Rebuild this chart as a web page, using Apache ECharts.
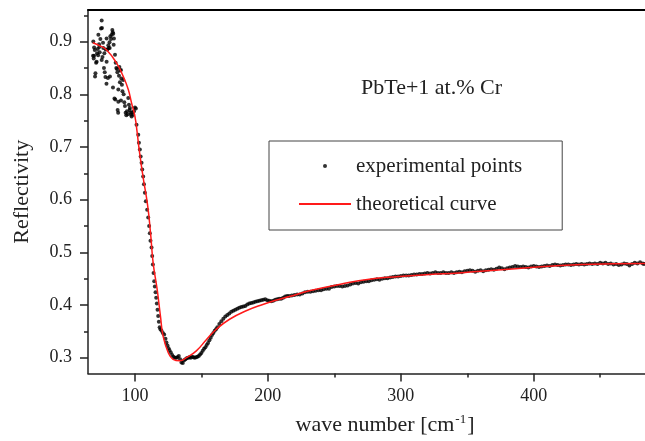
<!DOCTYPE html>
<html>
<head>
<meta charset="utf-8">
<script src="https://cdn.jsdelivr.net/npm/echarts@6/dist/echarts.min.js"></script>
<style>
html, body { margin: 0; padding: 0; background: #fff; }
#main { width: 645px; height: 441px; }
</style>
</head>
<body>
<div id="main"></div>
<script>
// experimental points: wave number / reflectivity
var expX = [68.5, 68.7, 69.0, 69.3, 69.3, 69.8, 70.0, 70.3, 70.8, 71.2, 71.5, 72.0, 72.3, 72.5, 73.0, 73.2, 73.5, 74.0, 74.5, 75.0,
    75.2, 75.0, 75.6, 76.0, 76.2, 76.7, 77.0, 77.3, 77.8, 78.0, 78.6, 78.7, 78.7, 79.3, 79.7, 80.0, 80.3, 80.9, 81.0, 81.2,
    81.5, 82.0, 82.5, 83.0, 83.3, 83.5, 83.7, 84.0, 84.2, 84.6, 85.0, 85.2, 85.5, 86.0, 86.5, 86.8, 87.0, 87.4, 87.5, 87.5,
    88.0, 88.3, 88.7, 89.0, 89.5, 89.5, 89.8, 90.2, 90.6, 91.2, 91.5, 92.0, 92.5, 93.0, 93.5, 94.0, 94.5, 95.0, 95.5, 96.0,
    96.2, 96.7, 97.0, 97.5, 98.0, 98.7, 99.3, 100.0, 100.7, 101.2, 102.5, 103.0, 103.7, 104.3, 105.0, 105.5, 106.2, 106.8, 107.5, 108.2,
    109.2, 110.0, 110.7, 111.2, 111.7, 112.5, 113.0, 113.5, 114.0, 114.5, 115.0, 115.5, 116.0, 116.5, 117.0, 117.5, 118.0, 118.6, 119.2, 120.0,
    121.0, 122.0, 123.0, 123.7, 124.5, 125.3, 126.0, 127.0, 128.0, 129.0, 130.0, 131.0, 132.0, 133.0, 134.0, 135.0, 136.0, 137.0, 138.0, 139.0,
    140.0, 141.0, 142.0, 143.0, 144.0, 145.0, 146.0, 147.0, 148.0, 149.0, 150.0, 151.0, 152.0, 153.0, 154.0, 155.0, 156.0, 157.0, 158.0, 159.0,
    160.0, 161.0, 162.0, 163.5, 165.0, 166.5, 168.0, 169.5, 171.0, 172.5, 174.0, 175.5, 177.0, 178.5, 180.0, 181.5, 183.0, 184.5, 186.0, 187.5,
    189.0, 190.5, 192.0, 193.5, 195.0, 196.5, 198.0, 199.5, 201.0, 202.5, 204.0, 205.5, 207.0, 208.5, 210.0, 211.5, 213.0, 214.5, 216.0, 218.0,
    220, 222, 224, 226, 228, 230, 232, 234, 236, 238, 240, 242, 244, 246, 248, 250, 252, 254, 256, 258,
    260, 262, 264, 266, 268, 270, 272, 274, 276, 278, 280, 282, 284, 286, 288, 290, 292, 294, 296, 298,
    300, 302, 304, 306, 308, 310, 312, 314, 316, 318, 320, 322, 324, 326, 328, 330, 332, 334, 336, 338,
    340, 342, 344, 346, 348, 350, 352, 354, 356, 358, 360, 362, 364, 366, 368, 370, 372, 374, 376, 378,
    380, 382, 384, 386, 388, 390, 392, 394, 396, 398, 400, 402, 404, 406, 408, 410, 412, 414, 416, 418,
    420, 422, 424, 426, 428, 430, 432, 434, 436, 438, 440, 442, 444, 446, 448, 450, 452, 454, 456, 458,
    460, 462, 464, 466, 468, 470, 472, 474, 476, 478, 480, 482, 483];
var expY = [0.873, 0.900, 0.868, 0.889, 0.873, 0.884, 0.834, 0.840, 0.860, 0.862, 0.878, 0.886, 0.874, 0.913, 0.895, 0.890, 0.880, 0.905, 0.925, 0.940,
    0.926, 0.865, 0.871, 0.898, 0.888, 0.850, 0.878, 0.842, 0.833, 0.885, 0.820, 0.862, 0.906, 0.885, 0.831, 0.893, 0.888, 0.899, 0.888, 0.834,
    0.910, 0.905, 0.913, 0.922, 0.918, 0.813, 0.915, 0.894, 0.906, 0.792, 0.875, 0.790, 0.860, 0.850, 0.848, 0.842, 0.770, 0.765, 0.786, 0.809,
    0.835, 0.852, 0.823, 0.845, 0.846, 0.788, 0.830, 0.818, 0.806, 0.827, 0.800, 0.785, 0.778, 0.765, 0.760, 0.768, 0.762, 0.793, 0.780, 0.770,
    0.774, 0.765, 0.761, 0.758, 0.766, 0.761, 0.768, 0.775, 0.773, 0.742, 0.723, 0.708, 0.695, 0.682, 0.670, 0.657, 0.644, 0.629, 0.613, 0.597,
    0.581, 0.566, 0.550, 0.536, 0.522, 0.509, 0.493, 0.477, 0.461, 0.445, 0.435, 0.424, 0.414, 0.403, 0.391, 0.379, 0.368, 0.358, 0.354, 0.351,
    0.347, 0.344, 0.336, 0.329, 0.323, 0.318, 0.314, 0.310, 0.305, 0.302, 0.300, 0.300, 0.301, 0.303, 0.297, 0.291, 0.290, 0.295, 0.297, 0.299,
    0.300, 0.301, 0.300, 0.302, 0.301, 0.300, 0.301, 0.302, 0.303, 0.306, 0.309, 0.313, 0.317, 0.320, 0.324, 0.328, 0.333, 0.338, 0.343, 0.347,
    0.351, 0.354, 0.358, 0.364, 0.369, 0.374, 0.378, 0.381, 0.384, 0.387, 0.389, 0.391, 0.393, 0.395, 0.396, 0.397, 0.398, 0.401, 0.403, 0.404,
    0.405, 0.406, 0.407, 0.408, 0.409, 0.410, 0.411, 0.409, 0.408, 0.407, 0.408, 0.410, 0.411, 0.412, 0.412, 0.414, 0.416, 0.417, 0.417, 0.418,
    0.419, 0.420, 0.420, 0.422, 0.424, 0.425, 0.425, 0.426, 0.427, 0.428, 0.428, 0.430, 0.431, 0.431, 0.434, 0.435, 0.436, 0.436, 0.435, 0.436,
    0.437, 0.439, 0.441, 0.442, 0.441, 0.443, 0.444, 0.445, 0.445, 0.447, 0.448, 0.449, 0.448, 0.450, 0.451, 0.451, 0.452, 0.453, 0.454, 0.454,
    0.455, 0.456, 0.456, 0.456, 0.457, 0.458, 0.458, 0.459, 0.459, 0.460, 0.461, 0.460, 0.461, 0.462, 0.461, 0.461, 0.462, 0.461, 0.461, 0.462,
    0.461, 0.462, 0.463, 0.462, 0.464, 0.465, 0.466, 0.465, 0.463, 0.465, 0.466, 0.464, 0.466, 0.467, 0.468, 0.467, 0.469, 0.471, 0.470, 0.468,
    0.470, 0.471, 0.472, 0.474, 0.473, 0.472, 0.473, 0.472, 0.471, 0.473, 0.474, 0.473, 0.472, 0.473, 0.474, 0.475, 0.474, 0.476, 0.477, 0.476,
    0.475, 0.476, 0.477, 0.477, 0.476, 0.477, 0.478, 0.477, 0.478, 0.477, 0.478, 0.479, 0.478, 0.479, 0.478, 0.480, 0.479, 0.480, 0.478, 0.479,
    0.477, 0.478, 0.476, 0.477, 0.479, 0.478, 0.475, 0.478, 0.480, 0.479, 0.481, 0.479, 0.478];

// theoretical curve
var fitX = [68.3, 73.0, 78.7, 86.2, 91.2, 95.0, 97.5, 100.0, 101.7, 103.2, 106.0, 109.5, 111.8, 113.7, 116.7, 119.2, 121.2, 125.0, 128.7, 133.7,
    138.7, 146.2, 153.7, 161.2, 171.2, 183.7, 196.2, 208.7, 216.2, 231.2, 253.7, 276.2, 298.7, 321.2, 343.7, 386.2, 436.2, 483.7];
var fitY = [0.898, 0.893, 0.884, 0.859, 0.834, 0.809, 0.783, 0.758, 0.727, 0.695, 0.645, 0.590, 0.535, 0.480, 0.430, 0.379, 0.341, 0.310, 0.297, 0.294,
    0.300, 0.313, 0.334, 0.354, 0.373, 0.389, 0.401, 0.411, 0.416, 0.427, 0.439, 0.449, 0.454, 0.458, 0.461, 0.469, 0.477, 0.479];

var xMajor = [100, 200, 300, 400];
var xMinor = [150, 250, 350, 450];
var yMajor = [0.3, 0.4, 0.5, 0.6, 0.7, 0.8, 0.9];
var yMinor = [0.35, 0.45, 0.55, 0.65, 0.75, 0.85, 0.95];

var expData = expX.map(function (x, i) { return [x, expY[i]]; });
var fitData = fitX.map(function (x, i) { return [x, fitY[i]]; });

var serif = 'Liberation Serif';
var ink = '#222';
var red = '#ff1a1a';

var myChart = echarts.init(document.getElementById('main'));
var option = {
    backgroundColor: '#fff',
    animation: false,
    title: {
        text: 'PbTe+1 at.% Cr',
        left: 356,
        top: 72,
        textStyle: {
            color: ink,
            fontFamily: serif,
            fontSize: 22,
            fontWeight: 'normal'
        }
    },
    legend: {
        orient: 'vertical',
        left: 269,
        top: 141,
        padding: [6, 40, 7, 29],
        itemWidth: 52,
        itemHeight: 4,
        itemGap: 0,
        borderColor: '#444',
        borderWidth: 1,
        data: [
            'experimental points',
            { name: 'theoretical curve', itemStyle: { color: 'transparent', borderWidth: 0 } }
        ],
        textStyle: {
            color: ink,
            fontFamily: serif,
            fontSize: 21,
            lineHeight: 38
        }
    },
    grid: {
        left: 88,
        right: 0,
        top: 10,
        bottom: 67
    },
    xAxis: [
        {
            type: 'value',
            position: 'bottom',
            min: 64.7,
            max: 483.7,
            name: 'wave number [cm{sup|-1}]',
            nameLocation: 'middle',
            nameGap: 40,
            nameTextStyle: {
                color: ink,
                fontFamily: serif,
                fontSize: 22,
                padding: [0, 0, 0, 37],
                rich: {
                    sup: {
                        fontFamily: serif,
                        fontSize: 13,
                        color: ink,
                        verticalAlign: 'top',
                        padding: [0, 1, 10, 1]
                    }
                }
            },
            axisLine: { lineStyle: { color: ink, width: 1.5 } },
            axisTick: { customValues: xMajor, length: 8, lineStyle: { color: ink, width: 1.5 } },
            axisLabel: { customValues: xMajor, margin: 14, color: ink, fontFamily: serif, fontSize: 18 },
            splitLine: { show: false }
        },
        {
            type: 'value',
            position: 'bottom',
            min: 64.7,
            max: 483.7,
            axisLine: { show: false },
            axisTick: { customValues: xMinor, length: 4, lineStyle: { color: ink, width: 1.5 } },
            axisLabel: { show: false },
            splitLine: { show: false }
        },
        {
            type: 'value',
            position: 'top',
            min: 64.7,
            max: 483.7,
            axisLine: { lineStyle: { color: '#000', width: 2 } },
            axisTick: { show: false },
            axisLabel: { show: false },
            splitLine: { show: false }
        }
    ],
    yAxis: [
        {
            type: 'value',
            position: 'left',
            min: 0.27,
            max: 0.96,
            name: 'Reflectivity',
            nameLocation: 'middle',
            nameGap: 55,
            nameTextStyle: {
                color: ink,
                fontFamily: serif,
                fontSize: 22
            },
            axisLine: { lineStyle: { color: ink, width: 1.5 } },
            axisTick: { customValues: yMajor, length: 8, lineStyle: { color: ink, width: 1.5 } },
            axisLabel: {
                customValues: yMajor,
                margin: 16,
                color: ink,
                fontFamily: serif,
                fontSize: 18,
                formatter: function (v) { return v.toFixed(1); }
            },
            splitLine: { show: false }
        },
        {
            type: 'value',
            position: 'left',
            min: 0.27,
            max: 0.96,
            axisLine: { show: false },
            axisTick: { customValues: yMinor, length: 4, lineStyle: { color: ink, width: 1.5 } },
            axisLabel: { show: false },
            splitLine: { show: false }
        }
    ],
    series: [
        {
            name: 'experimental points',
            type: 'scatter',
            xAxisIndex: 0,
            yAxisIndex: 0,
            symbol: 'circle',
            symbolSize: 4,
            data: expData,
            itemStyle: { color: '#000' },
            silent: true
        },
        {
            name: 'theoretical curve',
            type: 'line',
            xAxisIndex: 0,
            yAxisIndex: 0,
            smooth: true,
            symbol: 'none',
            data: fitData,
            lineStyle: { color: red, width: 1.5 },
            itemStyle: { color: red },
            silent: true
        }
    ]
};
myChart.setOption(option);
</script>
</body>
</html>
